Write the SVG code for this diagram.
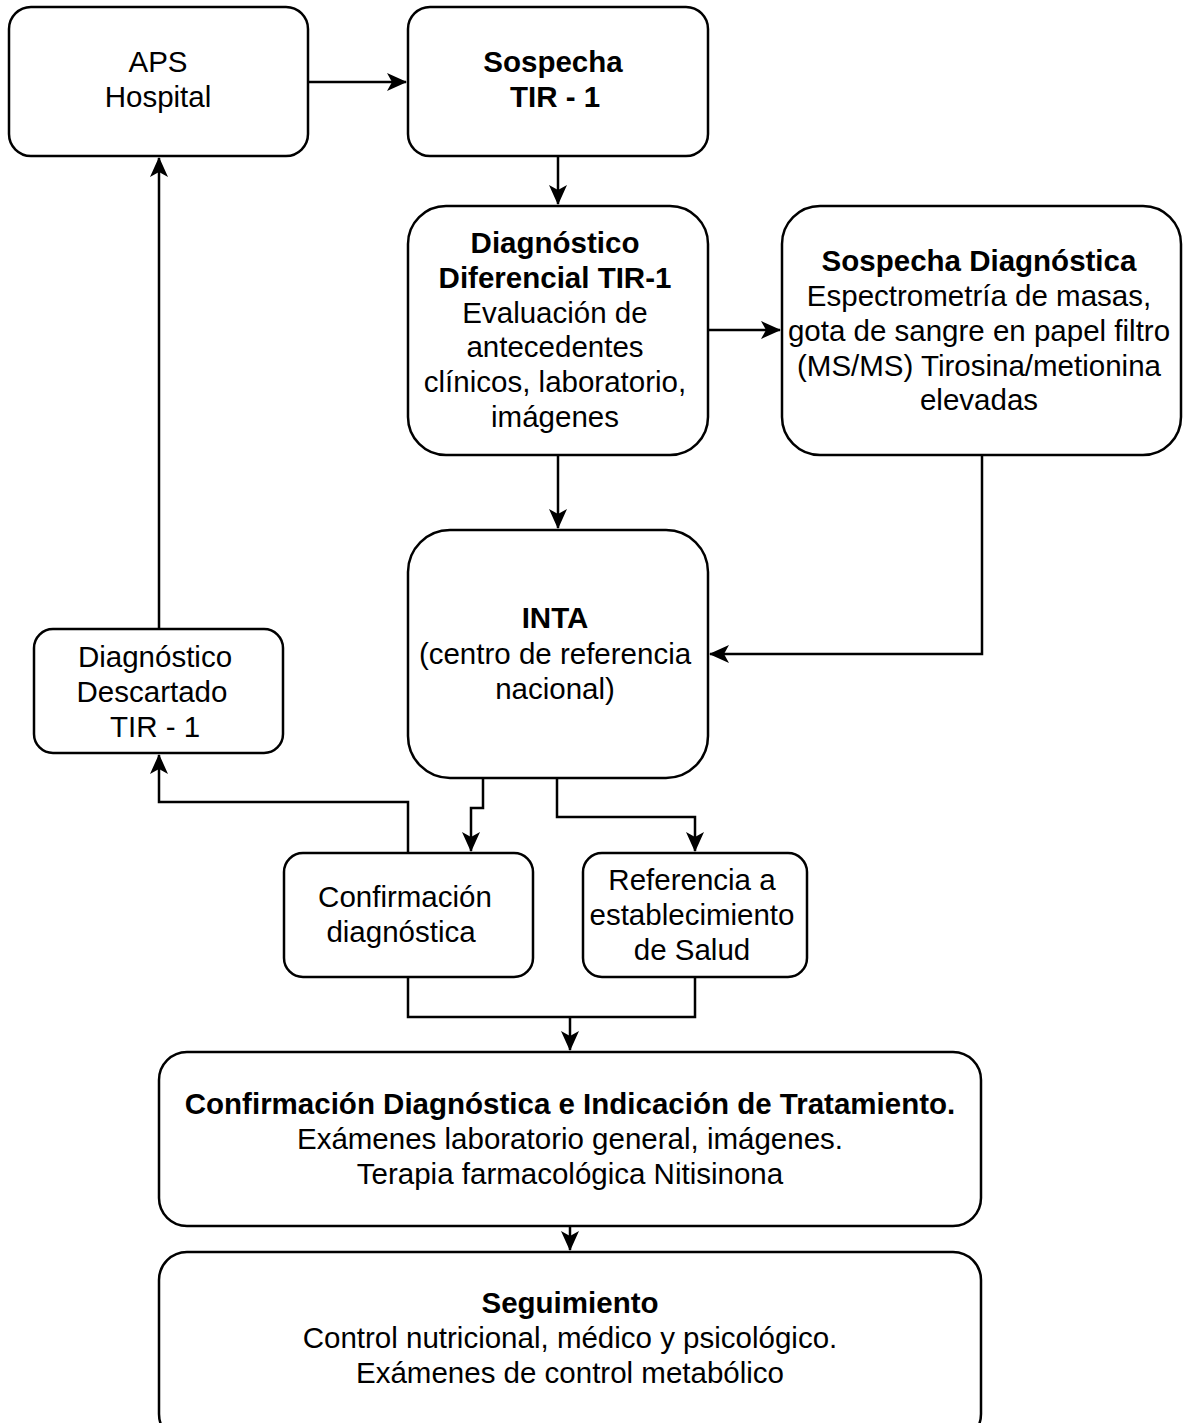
<svg xmlns="http://www.w3.org/2000/svg" width="1183" height="1423" viewBox="0 0 1183 1423">
<style>
.box{fill:#fff;stroke:#000;stroke-width:2.5}
.t{font-family:"Liberation Sans",Arial,sans-serif;font-size:29.5px;fill:#000;text-anchor:middle}
.b{font-weight:bold}
.c{fill:none;stroke:#000;stroke-width:2.5}
</style>
<defs>
<marker id="ah" viewBox="0 0 20 20" refX="19" refY="10" markerWidth="20" markerHeight="20" markerUnits="userSpaceOnUse" orient="auto">
<path d="M0,1 L20,10 L0,19 L5,10 Z" fill="#000"/>
</marker>
</defs>
<rect width="1183" height="1423" fill="#fff"/>
<g id="connectors">
<path class="c" d="M308,82 H406" marker-end="url(#ah)"/>
<path class="c" d="M558,156 V204" marker-end="url(#ah)"/>
<path class="c" d="M708,330 H780" marker-end="url(#ah)"/>
<path class="c" d="M558,455 V528" marker-end="url(#ah)"/>
<path class="c" d="M982,455 V654 H710" marker-end="url(#ah)"/>
<path class="c" d="M483,778 V808 H471 V851" marker-end="url(#ah)"/>
<path class="c" d="M557,778 V817 H695 V851" marker-end="url(#ah)"/>
<path class="c" d="M408,853 V802 H159 V755" marker-end="url(#ah)"/>
<path class="c" d="M159,629 V158" marker-end="url(#ah)"/>
<path class="c" d="M408,977 V1017 H695 V977"/>
<path class="c" d="M570,1017 V1050" marker-end="url(#ah)"/>
<path class="c" d="M570,1226 V1250" marker-end="url(#ah)"/>
</g>
<g id="aps">
<rect class="box" x="9" y="7" width="299" height="149" rx="22"/>
<text class="t" x="158" y="72">APS</text>
<text class="t" x="158" y="107">Hospital</text>
</g>
<g id="sospecha">
<rect class="box" x="408" y="7" width="300" height="149" rx="22"/>
<text class="t b" x="553" y="72">Sospecha</text>
<text class="t b" x="555" y="107">TIR - 1</text>
</g>
<g id="diagdif">
<rect class="box" x="408" y="206" width="300" height="249" rx="38"/>
<text class="t b" x="555" y="253">Diagnóstico</text>
<text class="t b" x="555" y="288">Diferencial TIR-1</text>
<text class="t" x="555" y="323">Evaluación de</text>
<text class="t" x="555" y="357">antecedentes</text>
<text class="t" x="555" y="392">clínicos, laboratorio,</text>
<text class="t" x="555" y="427">imágenes</text>
</g>
<g id="sospdiag">
<rect class="box" x="782" y="206" width="399" height="249" rx="38"/>
<text class="t b" x="979" y="271">Sospecha Diagnóstica</text>
<text class="t" x="979" y="306">Espectrometría de masas,</text>
<text class="t" x="979" y="341">gota de sangre en papel filtro</text>
<text class="t" x="979" y="376">(MS/MS) Tirosina/metionina</text>
<text class="t" x="979" y="410">elevadas</text>
</g>
<g id="inta">
<rect class="box" x="408" y="530" width="300" height="248" rx="42"/>
<text class="t b" x="555" y="628">INTA</text>
<text class="t" x="555" y="664">(centro de referencia</text>
<text class="t" x="555" y="699">nacional)</text>
</g>
<g id="descartado">
<rect class="box" x="34" y="629" width="249" height="124" rx="19"/>
<text class="t" x="155" y="667">Diagnóstico</text>
<text class="t" x="152" y="702">Descartado</text>
<text class="t" x="155" y="737">TIR - 1</text>
</g>
<g id="confirmacion">
<rect class="box" x="284" y="853" width="249" height="124" rx="19"/>
<text class="t" x="405" y="907">Confirmación</text>
<text class="t" x="401" y="942">diagnóstica</text>
</g>
<g id="referencia">
<rect class="box" x="583" y="853" width="224" height="124" rx="19"/>
<text class="t" x="692" y="890">Referencia a</text>
<text class="t" x="692" y="925">establecimiento</text>
<text class="t" x="692" y="960">de Salud</text>
</g>
<g id="tratamiento">
<rect class="box" x="159" y="1052" width="822" height="174" rx="28"/>
<text class="t b" x="570" y="1114">Confirmación Diagnóstica e Indicación de Tratamiento.</text>
<text class="t" x="570" y="1149">Exámenes laboratorio general, imágenes.</text>
<text class="t" x="570" y="1184">Terapia farmacológica Nitisinona</text>
</g>
<g id="seguimiento">
<rect class="box" x="159" y="1252" width="822" height="190" rx="28"/>
<text class="t b" x="570" y="1313">Seguimiento</text>
<text class="t" x="570" y="1348">Control nutricional, médico y psicológico.</text>
<text class="t" x="570" y="1383">Exámenes de control metabólico</text>
</g>
</svg>
